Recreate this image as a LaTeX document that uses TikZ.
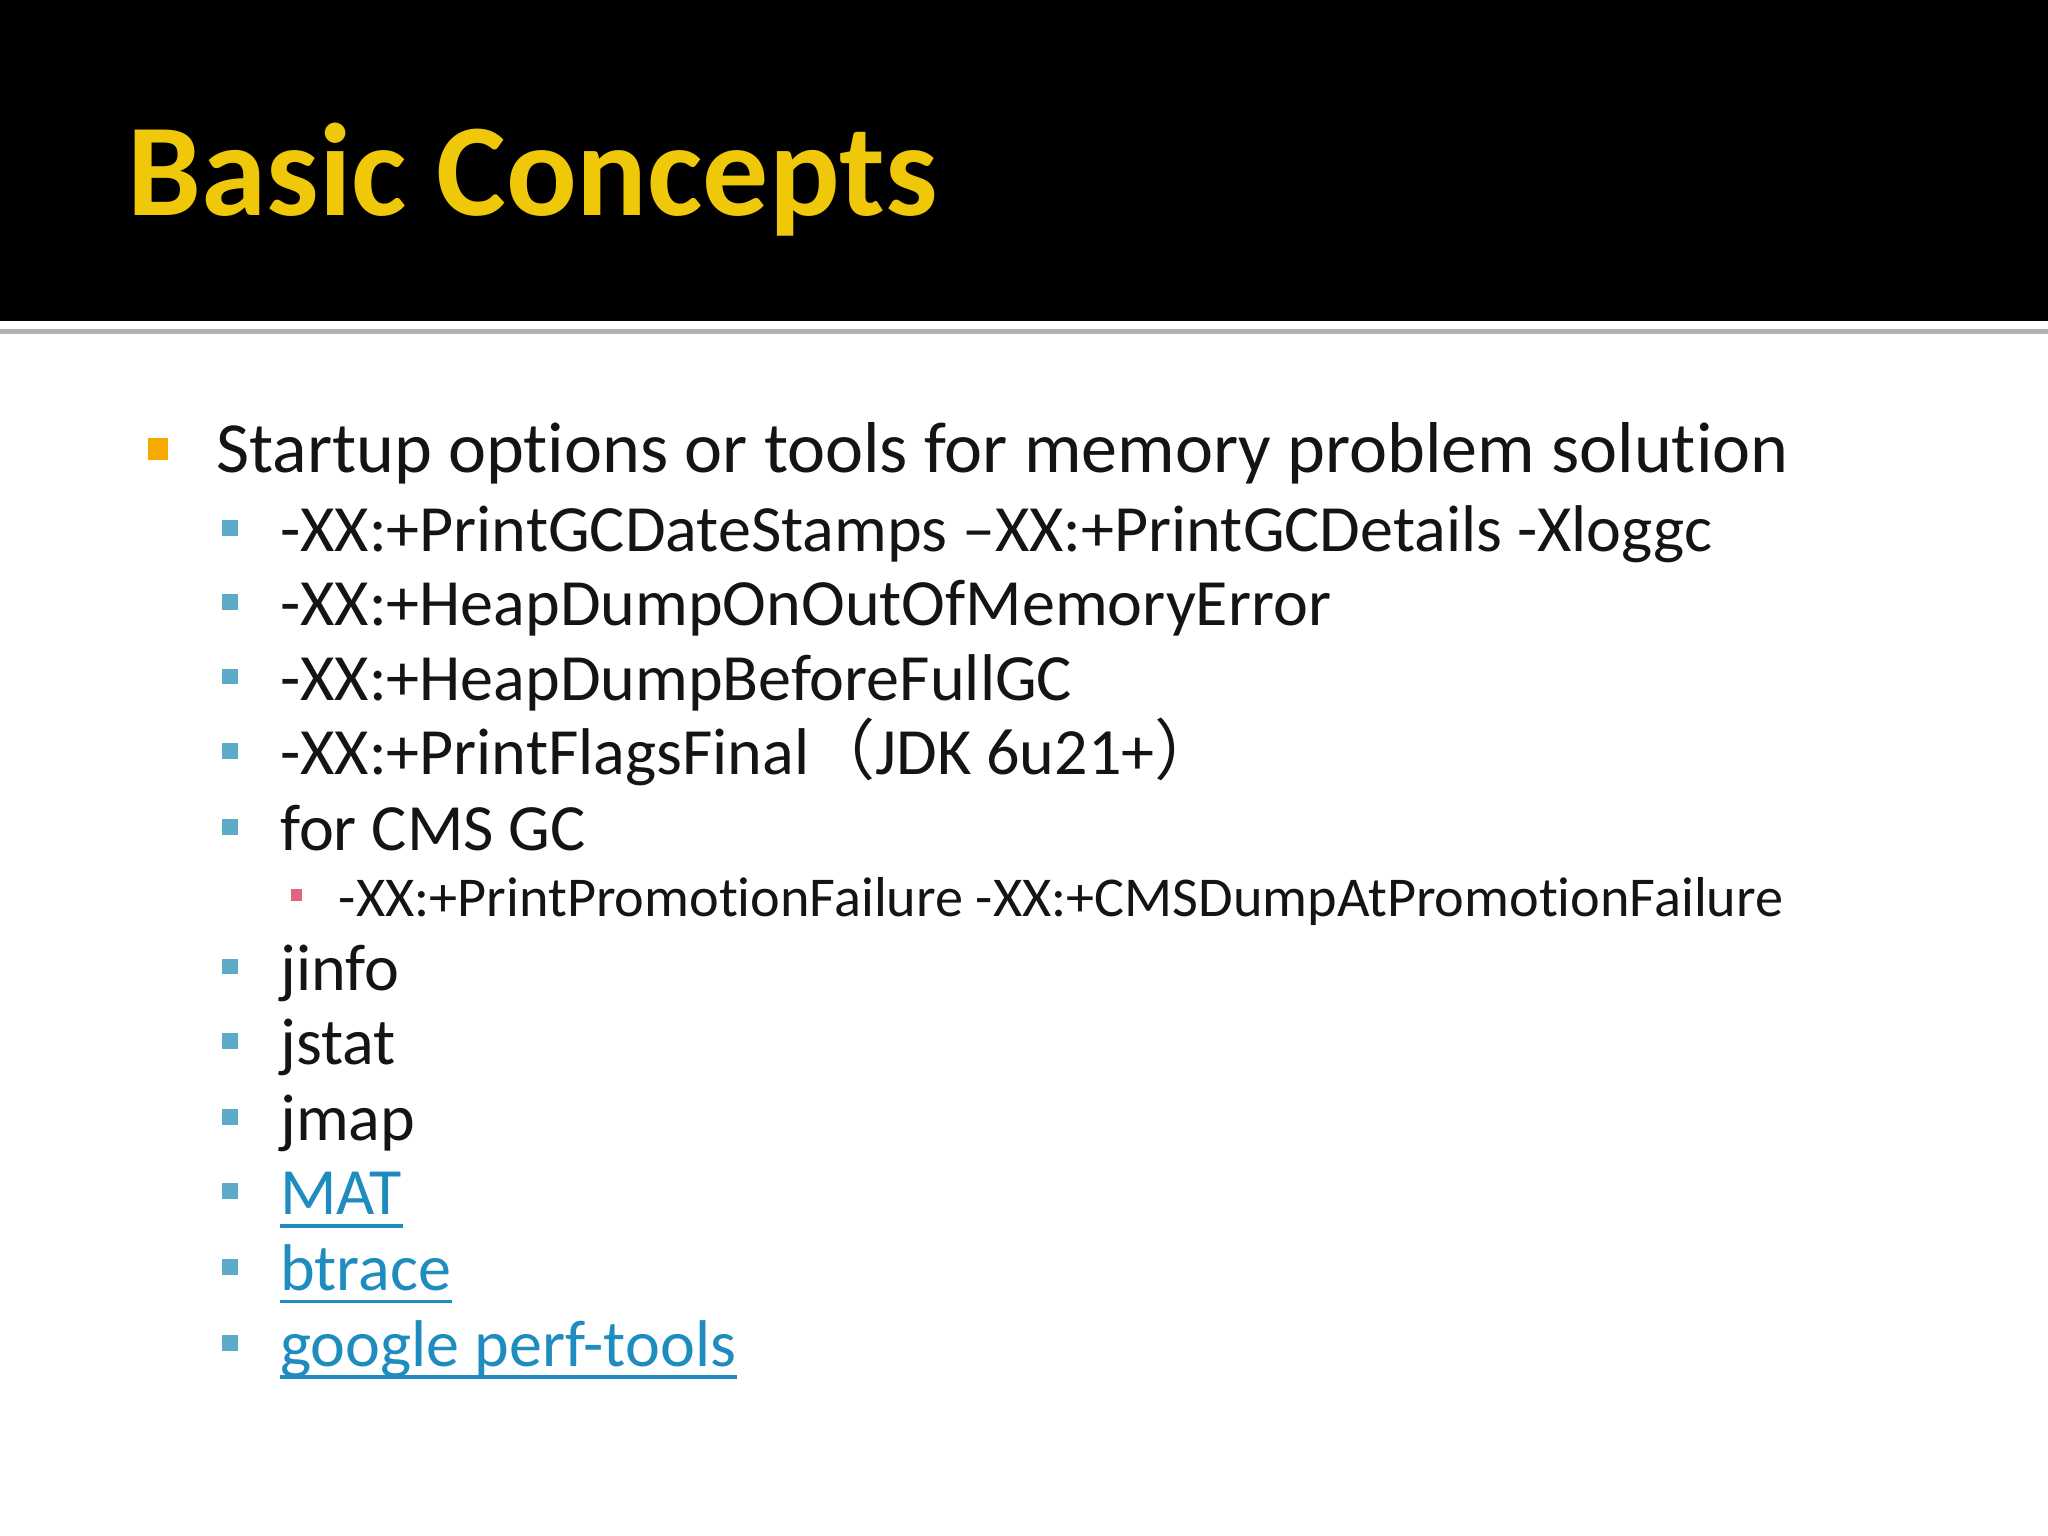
\documentclass[tikz,border=0pt]{standalone}
\usepackage{fontspec}
\setmainfont{Carlito}[Ligatures=NoCommon]
\newfontfamily\cjk{Noto Sans CJK SC}
\definecolor{titley}{RGB}{240,200,10}
\definecolor{orb}{RGB}{245,170,0}
\definecolor{blb}{RGB}{90,170,200}
\definecolor{pkb}{RGB}{225,100,130}
\definecolor{lnk}{RGB}{30,140,190}
\definecolor{txt}{RGB}{20,20,20}
\tikzset{
 lvA/.style={anchor=base west,inner sep=0pt,font=\fontsize{20.5}{24}\selectfont,text=txt},
 lvB/.style={anchor=base west,inner sep=0pt,font=\fontsize{18.8}{22}\selectfont,text=txt},
 lvC/.style={anchor=base west,inner sep=0pt,font=\fontsize{16}{19}\selectfont,text=txt},
 lk/.style={lvB,text=lnk}
}
\begin{document}
\begin{tikzpicture}[x=0.01306cm,y=-0.01306cm]
\useasboundingbox (0,0) rectangle (1568,1176);
\fill[white] (0,0) rectangle (1568,1176);
\fill[black] (0,0) rectangle (1568,246);
\fill[gray!60] (0,252) rectangle (1568,256);
\node[anchor=base west,inner sep=0pt,text=titley,font=\bfseries\fontsize{37.5}{40}\selectfont] (title) at (97,165) {Basic Concepts};
\fill[orb] (113,335) rectangle (129,352);
\node[lvA] (a) at (165,362) {Startup options or tools for memory problem solution};
\foreach \y/\t/\n in {422/{-XX:+PrintGCDateStamps –XX:+PrintGCDetails -Xloggc}/b1,
 479/{-XX:+HeapDumpOnOutOfMemoryError}/b2,
 536/{-XX:+HeapDumpBeforeFullGC}/b3,
 593/{-XX:+PrintFlagsFinal{\cjk（}JDK 6u21+{\cjk）}}/b4,
 651/{for CMS GC}/b5,
 758/{jinfo}/b6, 815/{jstat}/b7, 873/{jmap}/b8}{
 \fill[blb] (170,\y-24) rectangle (182,\y-12);
 \node[lvB] (\n) at (214,\y) {\t};
}
\fill[pkb] (223,681) rectangle (231,690);
\node[lvC] (c1) at (259,702) {-XX:+PrintPromotionFailure -XX:+CMSDumpAtPromotionFailure};
\foreach \y/\t/\n in {930/{MAT}/l1, 988/{btrace}/l2, 1046/{google perf-tools}/l3}{
 \fill[blb] (170,\y-24) rectangle (182,\y-12);
 \node[lk] (\n) at (214,\y) {\t};
 \draw[lnk,line width=1.1pt] ([yshift=-0.11cm]\n.base west) -- ([yshift=-0.11cm]\n.base east);
}
\end{tikzpicture}
\end{document}
